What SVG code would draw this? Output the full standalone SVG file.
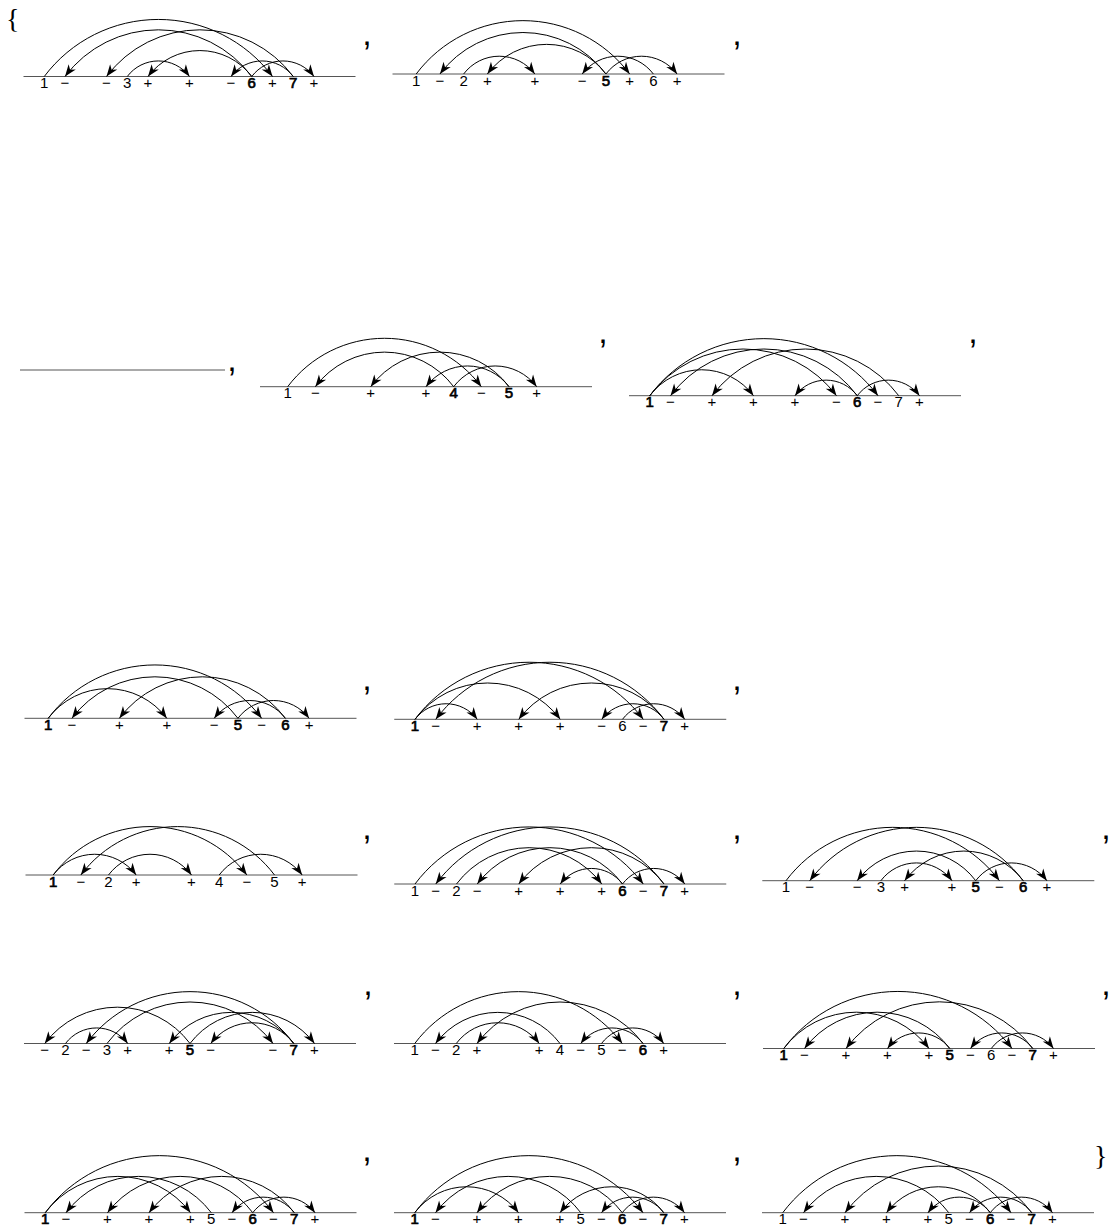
<svg xmlns="http://www.w3.org/2000/svg" width="1110" height="1232" viewBox="0 0 1110 1232">
<style>
.bg{fill:#fff}
.base{stroke:#555;stroke-width:1}
.arc{fill:none;stroke:#000;stroke-width:1;marker-end:url(#ah)}
.l{font-family:"Liberation Sans",Arial,sans-serif;font-size:15px;text-anchor:middle;fill:#000}
.b{stroke:#000;stroke-width:0.7}
.sep{font-family:"Liberation Sans",Arial,sans-serif;font-size:34px;text-anchor:middle;fill:#000}
.br{font-family:"Liberation Serif","Times New Roman",serif;font-size:28px;fill:#000}
</style>
<defs>
<marker id="ah" markerUnits="userSpaceOnUse" markerWidth="14" markerHeight="11" viewBox="-13 -5.5 14 11" refX="0" refY="0" orient="auto">
<path d="M0,0 L-12,-4.5 L-8.5,0 L-12,4.5 Z" fill="#000"/>
</marker>
</defs>
<rect class="bg" x="0" y="0" width="1110" height="1232"/>
<text class="br" x="6" y="28">{</text>
<text class="br" x="1094" y="1165">}</text>
<g id="separators">
<text class="sep" x="367" y="45">,</text>
<text class="sep" x="737" y="45">,</text>
<text class="sep" x="232" y="371">,</text>
<text class="sep" x="603" y="343">,</text>
<text class="sep" x="973" y="343">,</text>
<text class="sep" x="367" y="690">,</text>
<text class="sep" x="737" y="690">,</text>
<text class="sep" x="367" y="839">,</text>
<text class="sep" x="737" y="839">,</text>
<text class="sep" x="1106" y="839">,</text>
<text class="sep" x="368" y="995">,</text>
<text class="sep" x="737" y="995">,</text>
<text class="sep" x="1106" y="995">,</text>
<text class="sep" x="367" y="1161">,</text>
<text class="sep" x="737" y="1161">,</text>
</g>
<g id="empty"><line class="base" x1="20" y1="370" x2="225" y2="370"/></g>

<g id="d1" transform="translate(23.5,76.5)">
<line class="base" x1="0" y1="0" x2="332" y2="0"/>
<g id="d1-nodes">
<text class="l" x="20.75" y="11.5">1</text><text class="l" x="41.5" y="11.5">−</text><text class="l" x="83" y="11.5">−</text><text class="l" x="103.75" y="11.5">3</text><text class="l" x="124.5" y="11.5">+</text><text class="l" x="166" y="11.5">+</text><text class="l" x="207.5" y="11.5">−</text><text class="l b" x="228.25" y="11.5">6</text><text class="l" x="249" y="11.5">+</text><text class="l b" x="269.75" y="11.5">7</text><text class="l" x="290.5" y="11.5">+</text>
</g>
<g id="d1-arcs">
<path class="arc" d="M20.75 0 A142.66 142.66 0 0 1 249 0"/>
<path class="arc" d="M228.25 0 A116.72 116.72 0 0 0 41.5 0"/>
<path class="arc" d="M269.75 0 A116.72 116.72 0 0 0 83 0"/>
<path class="arc" d="M103.75 0 A38.91 38.91 0 0 1 166 0"/>
<path class="arc" d="M228.25 0 A64.84 64.84 0 0 0 124.5 0"/>
<path class="arc" d="M269.75 0 A38.91 38.91 0 0 0 207.5 0"/>
<path class="arc" d="M228.25 0 A38.91 38.91 0 0 1 290.5 0"/>
</g>
</g>

<g id="d2" transform="translate(392.5,74)">
<line class="base" x1="0" y1="0" x2="332" y2="0"/>
<g id="d2-nodes">
<text class="l" x="23.71" y="11.5">1</text><text class="l" x="47.43" y="11.5">−</text><text class="l" x="71.14" y="11.5">2</text><text class="l" x="94.86" y="11.5">+</text><text class="l" x="142.29" y="11.5">+</text><text class="l" x="189.71" y="11.5">−</text><text class="l b" x="213.43" y="11.5">5</text><text class="l" x="237.14" y="11.5">+</text><text class="l" x="260.86" y="11.5">6</text><text class="l" x="284.57" y="11.5">+</text>
</g>
<g id="d2-arcs">
<path class="arc" d="M23.71 0 A133.39 133.39 0 0 1 237.14 0"/>
<path class="arc" d="M213.43 0 A103.75 103.75 0 0 0 47.43 0"/>
<path class="arc" d="M213.43 0 A74.11 74.11 0 0 0 94.86 0"/>
<path class="arc" d="M71.14 0 A44.46 44.46 0 0 1 142.29 0"/>
<path class="arc" d="M260.86 0 A44.46 44.46 0 0 0 189.71 0"/>
<path class="arc" d="M213.43 0 A44.46 44.46 0 0 1 284.57 0"/>
</g>
</g>

<g id="d3" transform="translate(260,386.7)">
<line class="base" x1="0" y1="0" x2="332" y2="0"/>
<g id="d3-nodes">
<text class="l" x="27.67" y="11.5">1</text><text class="l" x="55.33" y="11.5">−</text><text class="l" x="110.67" y="11.5">+</text><text class="l" x="166" y="11.5">+</text><text class="l b" x="193.67" y="11.5">4</text><text class="l" x="221.33" y="11.5">−</text><text class="l b" x="249" y="11.5">5</text><text class="l" x="276.67" y="11.5">+</text>
</g>
<g id="d3-arcs">
<path class="arc" d="M27.67 0 A121.04 121.04 0 0 1 221.33 0"/>
<path class="arc" d="M193.67 0 A86.46 86.46 0 0 0 55.33 0"/>
<path class="arc" d="M249 0 A86.46 86.46 0 0 0 110.67 0"/>
<path class="arc" d="M193.67 0 A51.88 51.88 0 0 1 276.67 0"/>
<path class="arc" d="M249 0 A51.88 51.88 0 0 0 166 0"/>
</g>
</g>

<g id="d4" transform="translate(629,395.7)">
<line class="base" x1="0" y1="0" x2="332" y2="0"/>
<g id="d4-nodes">
<text class="l b" x="20.75" y="11.5">1</text><text class="l" x="41.5" y="11.5">−</text><text class="l" x="83" y="11.5">+</text><text class="l" x="124.5" y="11.5">+</text><text class="l" x="166" y="11.5">+</text><text class="l" x="207.5" y="11.5">−</text><text class="l b" x="228.25" y="11.5">6</text><text class="l" x="249" y="11.5">−</text><text class="l" x="269.75" y="11.5">7</text><text class="l" x="290.5" y="11.5">+</text>
</g>
<g id="d4-arcs">
<path class="arc" d="M20.75 0 A142.66 142.66 0 0 1 249 0"/>
<path class="arc" d="M20.75 0 A116.72 116.72 0 0 1 207.5 0"/>
<path class="arc" d="M20.75 0 A64.84 64.84 0 0 1 124.5 0"/>
<path class="arc" d="M228.25 0 A116.72 116.72 0 0 0 41.5 0"/>
<path class="arc" d="M269.75 0 A116.72 116.72 0 0 0 83 0"/>
<path class="arc" d="M228.25 0 A38.91 38.91 0 0 0 166 0"/>
<path class="arc" d="M228.25 0 A38.91 38.91 0 0 1 290.5 0"/>
</g>
</g>

<g id="d5" transform="translate(24.5,718.3)">
<line class="base" x1="0" y1="0" x2="332" y2="0"/>
<g id="d5-nodes">
<text class="l b" x="23.71" y="11.5">1</text><text class="l" x="47.43" y="11.5">−</text><text class="l" x="94.86" y="11.5">+</text><text class="l" x="142.29" y="11.5">+</text><text class="l" x="189.71" y="11.5">−</text><text class="l b" x="213.43" y="11.5">5</text><text class="l" x="237.14" y="11.5">−</text><text class="l b" x="260.86" y="11.5">6</text><text class="l" x="284.57" y="11.5">+</text>
</g>
<g id="d5-arcs">
<path class="arc" d="M23.71 0 A74.11 74.11 0 0 1 142.29 0"/>
<path class="arc" d="M23.71 0 A133.39 133.39 0 0 1 237.14 0"/>
<path class="arc" d="M213.43 0 A44.46 44.46 0 0 1 284.57 0"/>
<path class="arc" d="M213.43 0 A103.75 103.75 0 0 0 47.43 0"/>
<path class="arc" d="M260.86 0 A103.75 103.75 0 0 0 94.86 0"/>
<path class="arc" d="M260.86 0 A44.46 44.46 0 0 0 189.71 0"/>
</g>
</g>

<g id="d6" transform="translate(394.25,719.3)">
<line class="base" x1="0" y1="0" x2="332" y2="0"/>
<g id="d6-nodes">
<text class="l b" x="20.75" y="11.5">1</text><text class="l" x="41.5" y="11.5">−</text><text class="l" x="83" y="11.5">+</text><text class="l" x="124.5" y="11.5">+</text><text class="l" x="166" y="11.5">+</text><text class="l" x="207.5" y="11.5">−</text><text class="l" x="228.25" y="11.5">6</text><text class="l" x="249" y="11.5">−</text><text class="l b" x="269.75" y="11.5">7</text><text class="l" x="290.5" y="11.5">+</text>
</g>
<g id="d6-arcs">
<path class="arc" d="M20.75 0 A38.91 38.91 0 0 1 83 0"/>
<path class="arc" d="M20.75 0 A90.78 90.78 0 0 1 166 0"/>
<path class="arc" d="M20.75 0 A142.66 142.66 0 0 1 249 0"/>
<path class="arc" d="M228.25 0 A38.91 38.91 0 0 1 290.5 0"/>
<path class="arc" d="M269.75 0 A142.66 142.66 0 0 0 41.5 0"/>
<path class="arc" d="M269.75 0 A90.78 90.78 0 0 0 124.5 0"/>
<path class="arc" d="M269.75 0 A38.91 38.91 0 0 0 207.5 0"/>
</g>
</g>

<g id="d7" transform="translate(25.5,875)">
<line class="base" x1="0" y1="0" x2="332" y2="0"/>
<g id="d7-nodes">
<text class="l b" x="27.67" y="11.5">1</text><text class="l" x="55.33" y="11.5">−</text><text class="l" x="83" y="11.5">2</text><text class="l" x="110.67" y="11.5">+</text><text class="l" x="166" y="11.5">+</text><text class="l" x="193.67" y="11.5">4</text><text class="l" x="221.33" y="11.5">−</text><text class="l" x="249" y="11.5">5</text><text class="l" x="276.67" y="11.5">+</text>
</g>
<g id="d7-arcs">
<path class="arc" d="M27.67 0 A51.88 51.88 0 0 1 110.67 0"/>
<path class="arc" d="M27.67 0 A121.04 121.04 0 0 1 221.33 0"/>
<path class="arc" d="M83 0 A51.88 51.88 0 0 1 166 0"/>
<path class="arc" d="M193.67 0 A51.88 51.88 0 0 1 276.67 0"/>
<path class="arc" d="M249 0 A121.04 121.04 0 0 0 55.33 0"/>
</g>
</g>

<g id="d8" transform="translate(394.25,884)">
<line class="base" x1="0" y1="0" x2="332" y2="0"/>
<g id="d8-nodes">
<text class="l" x="20.75" y="11.5">1</text><text class="l" x="41.5" y="11.5">−</text><text class="l" x="62.25" y="11.5">2</text><text class="l" x="83" y="11.5">−</text><text class="l" x="124.5" y="11.5">+</text><text class="l" x="166" y="11.5">+</text><text class="l" x="207.5" y="11.5">+</text><text class="l b" x="228.25" y="11.5">6</text><text class="l" x="249" y="11.5">−</text><text class="l b" x="269.75" y="11.5">7</text><text class="l" x="290.5" y="11.5">+</text>
</g>
<g id="d8-arcs">
<path class="arc" d="M20.75 0 A142.66 142.66 0 0 1 249 0"/>
<path class="arc" d="M62.25 0 A90.78 90.78 0 0 1 207.5 0"/>
<path class="arc" d="M228.25 0 A38.91 38.91 0 0 1 290.5 0"/>
<path class="arc" d="M269.75 0 A142.66 142.66 0 0 0 41.5 0"/>
<path class="arc" d="M228.25 0 A90.78 90.78 0 0 0 83 0"/>
<path class="arc" d="M269.75 0 A90.78 90.78 0 0 0 124.5 0"/>
<path class="arc" d="M228.25 0 A38.91 38.91 0 0 0 166 0"/>
</g>
</g>

<g id="d9" transform="translate(762.3,880.7)">
<line class="base" x1="0" y1="0" x2="332" y2="0"/>
<g id="d9-nodes">
<text class="l" x="23.71" y="11.5">1</text><text class="l" x="47.43" y="11.5">−</text><text class="l" x="94.86" y="11.5">−</text><text class="l" x="118.57" y="11.5">3</text><text class="l" x="142.29" y="11.5">+</text><text class="l" x="189.71" y="11.5">+</text><text class="l b" x="213.43" y="11.5">5</text><text class="l" x="237.14" y="11.5">−</text><text class="l b" x="260.86" y="11.5">6</text><text class="l" x="284.57" y="11.5">+</text>
</g>
<g id="d9-arcs">
<path class="arc" d="M23.71 0 A133.39 133.39 0 0 1 237.14 0"/>
<path class="arc" d="M260.86 0 A133.39 133.39 0 0 0 47.43 0"/>
<path class="arc" d="M213.43 0 A74.11 74.11 0 0 0 94.86 0"/>
<path class="arc" d="M260.86 0 A74.11 74.11 0 0 0 142.29 0"/>
<path class="arc" d="M118.57 0 A44.46 44.46 0 0 1 189.71 0"/>
<path class="arc" d="M213.43 0 A44.46 44.46 0 0 1 284.57 0"/>
</g>
</g>

<g id="d10" transform="translate(24,1043.5)">
<line class="base" x1="0" y1="0" x2="332" y2="0"/>
<g id="d10-nodes">
<text class="l" x="20.75" y="11.5">−</text><text class="l" x="41.5" y="11.5">2</text><text class="l" x="62.25" y="11.5">−</text><text class="l" x="83" y="11.5">3</text><text class="l" x="103.75" y="11.5">+</text><text class="l" x="145.25" y="11.5">+</text><text class="l b" x="166" y="11.5">5</text><text class="l" x="186.75" y="11.5">−</text><text class="l" x="249" y="11.5">−</text><text class="l b" x="269.75" y="11.5">7</text><text class="l" x="290.5" y="11.5">+</text>
</g>
<g id="d10-arcs">
<path class="arc" d="M269.75 0 A129.69 129.69 0 0 0 62.25 0"/>
<path class="arc" d="M83 0 A103.75 103.75 0 0 1 249 0"/>
<path class="arc" d="M269.75 0 A77.81 77.81 0 0 0 145.25 0"/>
<path class="arc" d="M269.75 0 A51.88 51.88 0 0 0 186.75 0"/>
<path class="arc" d="M166 0 A90.78 90.78 0 0 0 20.75 0"/>
<path class="arc" d="M166 0 A77.81 77.81 0 0 1 290.5 0"/>
<path class="arc" d="M41.5 0 A38.91 38.91 0 0 1 103.75 0"/>
</g>
</g>

<g id="d11" transform="translate(394,1043.5)">
<line class="base" x1="0" y1="0" x2="332" y2="0"/>
<g id="d11-nodes">
<text class="l" x="20.75" y="11.5">1</text><text class="l" x="41.5" y="11.5">−</text><text class="l" x="62.25" y="11.5">2</text><text class="l" x="83" y="11.5">+</text><text class="l" x="145.25" y="11.5">+</text><text class="l" x="166" y="11.5">4</text><text class="l" x="186.75" y="11.5">−</text><text class="l" x="207.5" y="11.5">5</text><text class="l" x="228.25" y="11.5">−</text><text class="l b" x="249" y="11.5">6</text><text class="l" x="269.75" y="11.5">+</text>
</g>
<g id="d11-arcs">
<path class="arc" d="M20.75 0 A129.69 129.69 0 0 1 228.25 0"/>
<path class="arc" d="M249 0 A103.75 103.75 0 0 0 83 0"/>
<path class="arc" d="M166 0 A77.81 77.81 0 0 0 41.5 0"/>
<path class="arc" d="M62.25 0 A51.88 51.88 0 0 1 145.25 0"/>
<path class="arc" d="M249 0 A38.91 38.91 0 0 0 186.75 0"/>
<path class="arc" d="M207.5 0 A38.91 38.91 0 0 1 269.75 0"/>
</g>
</g>

<g id="d12" transform="translate(763,1048.5)">
<line class="base" x1="0" y1="0" x2="332" y2="0"/>
<g id="d12-nodes">
<text class="l b" x="20.75" y="11.5">1</text><text class="l" x="41.5" y="11.5">−</text><text class="l" x="83" y="11.5">+</text><text class="l" x="124.5" y="11.5">+</text><text class="l" x="166" y="11.5">+</text><text class="l b" x="186.75" y="11.5">5</text><text class="l" x="207.5" y="11.5">−</text><text class="l" x="228.25" y="11.5">6</text><text class="l" x="249" y="11.5">−</text><text class="l b" x="269.75" y="11.5">7</text><text class="l" x="290.5" y="11.5">+</text>
</g>
<g id="d12-arcs">
<path class="arc" d="M20.75 0 A142.66 142.66 0 0 1 249 0"/>
<path class="arc" d="M269.75 0 A116.72 116.72 0 0 0 83 0"/>
<path class="arc" d="M20.75 0 A90.78 90.78 0 0 1 166 0"/>
<path class="arc" d="M186.75 0 A90.78 90.78 0 0 0 41.5 0"/>
<path class="arc" d="M186.75 0 A38.91 38.91 0 0 0 124.5 0"/>
<path class="arc" d="M269.75 0 A38.91 38.91 0 0 0 207.5 0"/>
<path class="arc" d="M228.25 0 A38.91 38.91 0 0 1 290.5 0"/>
</g>
</g>

<g id="d13" transform="translate(24.5,1212.7)">
<line class="base" x1="0" y1="0" x2="332" y2="0"/>
<g id="d13-nodes">
<text class="l b" x="20.75" y="11.5">1</text><text class="l" x="41.5" y="11.5">−</text><text class="l" x="83" y="11.5">+</text><text class="l" x="124.5" y="11.5">+</text><text class="l" x="166" y="11.5">+</text><text class="l" x="186.75" y="11.5">5</text><text class="l" x="207.5" y="11.5">−</text><text class="l b" x="228.25" y="11.5">6</text><text class="l" x="249" y="11.5">−</text><text class="l b" x="269.75" y="11.5">7</text><text class="l" x="290.5" y="11.5">+</text>
</g>
<g id="d13-arcs">
<path class="arc" d="M20.75 0 A142.66 142.66 0 0 1 249 0"/>
<path class="arc" d="M20.75 0 A90.78 90.78 0 0 1 166 0"/>
<path class="arc" d="M186.75 0 A90.78 90.78 0 0 0 41.5 0"/>
<path class="arc" d="M228.25 0 A90.78 90.78 0 0 0 83 0"/>
<path class="arc" d="M269.75 0 A90.78 90.78 0 0 0 124.5 0"/>
<path class="arc" d="M269.75 0 A38.91 38.91 0 0 0 207.5 0"/>
<path class="arc" d="M228.25 0 A38.91 38.91 0 0 1 290.5 0"/>
</g>
</g>

<g id="d14" transform="translate(394,1212.7)">
<line class="base" x1="0" y1="0" x2="332" y2="0"/>
<g id="d14-nodes">
<text class="l b" x="20.75" y="11.5">1</text><text class="l" x="41.5" y="11.5">−</text><text class="l" x="83" y="11.5">+</text><text class="l" x="124.5" y="11.5">+</text><text class="l" x="166" y="11.5">+</text><text class="l" x="186.75" y="11.5">5</text><text class="l" x="207.5" y="11.5">−</text><text class="l b" x="228.25" y="11.5">6</text><text class="l" x="249" y="11.5">−</text><text class="l b" x="269.75" y="11.5">7</text><text class="l" x="290.5" y="11.5">+</text>
</g>
<g id="d14-arcs">
<path class="arc" d="M20.75 0 A142.66 142.66 0 0 1 249 0"/>
<path class="arc" d="M20.75 0 A64.84 64.84 0 0 1 124.5 0"/>
<path class="arc" d="M186.75 0 A90.78 90.78 0 0 0 41.5 0"/>
<path class="arc" d="M228.25 0 A90.78 90.78 0 0 0 83 0"/>
<path class="arc" d="M269.75 0 A64.84 64.84 0 0 0 166 0"/>
<path class="arc" d="M269.75 0 A38.91 38.91 0 0 0 207.5 0"/>
<path class="arc" d="M228.25 0 A38.91 38.91 0 0 1 290.5 0"/>
</g>
</g>

<g id="d15" transform="translate(762,1212.7)">
<line class="base" x1="0" y1="0" x2="332" y2="0"/>
<g id="d15-nodes">
<text class="l" x="20.75" y="11.5">1</text><text class="l" x="41.5" y="11.5">−</text><text class="l" x="83" y="11.5">+</text><text class="l" x="124.5" y="11.5">+</text><text class="l" x="166" y="11.5">+</text><text class="l" x="186.75" y="11.5">5</text><text class="l" x="207.5" y="11.5">−</text><text class="l b" x="228.25" y="11.5">6</text><text class="l" x="249" y="11.5">−</text><text class="l b" x="269.75" y="11.5">7</text><text class="l" x="290.5" y="11.5">+</text>
</g>
<g id="d15-arcs">
<path class="arc" d="M20.75 0 A142.66 142.66 0 0 1 249 0"/>
<path class="arc" d="M186.75 0 A90.78 90.78 0 0 0 41.5 0"/>
<path class="arc" d="M269.75 0 A116.72 116.72 0 0 0 83 0"/>
<path class="arc" d="M228.25 0 A64.84 64.84 0 0 0 124.5 0"/>
<path class="arc" d="M228.25 0 A38.91 38.91 0 0 0 166 0"/>
<path class="arc" d="M269.75 0 A38.91 38.91 0 0 0 207.5 0"/>
<path class="arc" d="M228.25 0 A38.91 38.91 0 0 1 290.5 0"/>
</g>
</g>
</svg>
